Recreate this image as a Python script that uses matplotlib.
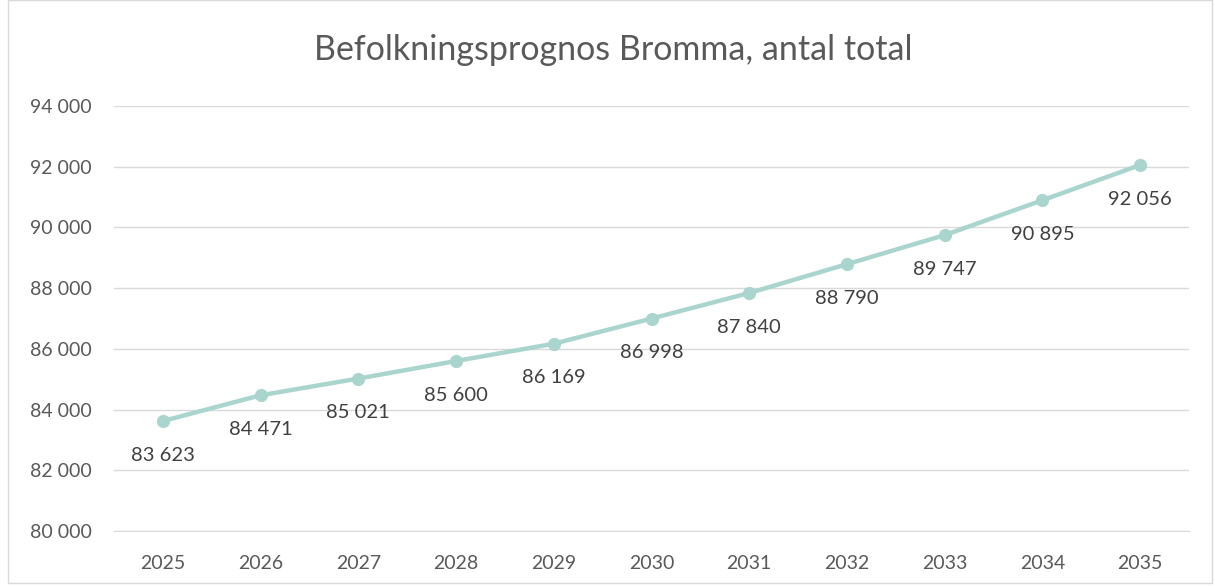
import matplotlib
matplotlib.use("Agg")
import matplotlib.pyplot as plt
from matplotlib.patches import Rectangle

years = ["2025", "2026", "2027", "2028", "2029", "2030", "2031", "2032", "2033", "2034", "2035"]
population = [83623, 84471, 85021, 85600, 86169, 86998, 87840, 88790, 89747, 90895, 92056]
yticks = [80000, 82000, 84000, 86000, 88000, 90000, 92000, 94000]
title = "Befolkningsprognos Bromma, antal total"

plt.rcParams['font.family'] = ['Lato', 'DejaVu Sans']

def fmt(v):
    return f"{v:,}".replace(",", " ")

fig = plt.figure(figsize=(12.15, 5.87), dpi=100)
fig.patches.append(Rectangle((8/1215, 4/587), 1204/1215, 583/587,
                             transform=fig.transFigure, fill=False,
                             edgecolor="#d9d9d9", linewidth=1))
ax = fig.add_axes([114/1215, 1 - 531/587, (1189 - 114)/1215, (531 - 106)/587])

x = list(range(len(years)))
ax.plot(x, population, color="#a9d5ce", linewidth=3.2, marker="o", markersize=8.5,
        solid_capstyle="round", zorder=3)
for xi, v in zip(x, population):
    ax.annotate(fmt(v), (xi, v), xytext=(0, -24.5), textcoords="offset points",
                ha="center", va="center", fontsize=14.5, color="#404040")

ax.set_xlim(-0.5, len(years) - 0.5)
ax.set_ylim(80000, 94000)
ax.set_yticks(yticks)
ax.set_yticklabels([fmt(t) for t in yticks])
ax.set_xticks(x)
ax.set_xticklabels(years)
ax.grid(axis="y", color="#d9d9d9", linewidth=1)
ax.set_axisbelow(True)
for s in ["top", "right", "left"]:
    ax.spines[s].set_visible(False)
ax.spines["bottom"].set_color("#d9d9d9")
ax.tick_params(axis="both", length=0, labelsize=14, labelcolor="#595959")
ax.tick_params(axis="y", pad=16)
ax.tick_params(axis="x", pad=17)

fig.text(613/1215, 1 - 50/587, title, ha="center", va="center", fontsize=24.5, color="#595959")

fig.savefig("out.png", dpi=100)
